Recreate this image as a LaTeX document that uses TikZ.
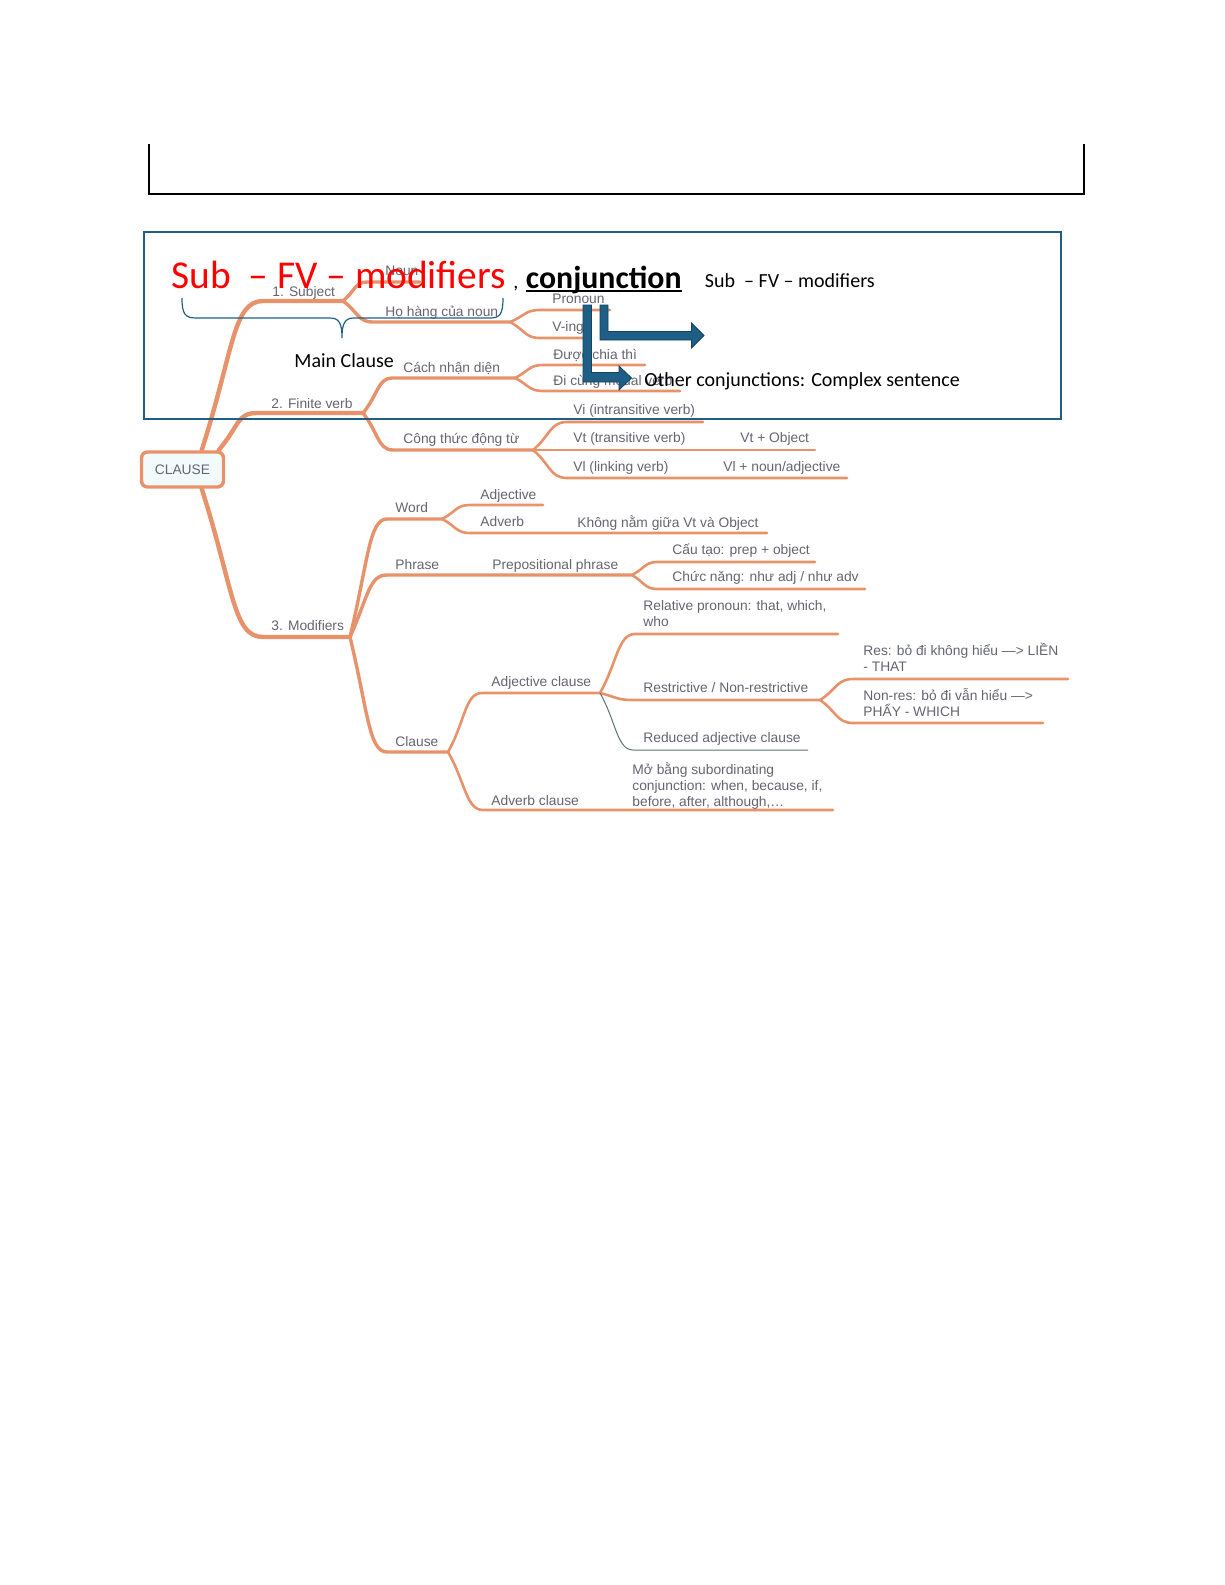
\documentclass[tikz,border=0pt]{standalone}
\usepackage{fontspec}
\setmainfont{Carlito}
\newfontfamily\mapfont{Liberation Sans}
\usetikzlibrary{calc}
\definecolor{mapline}{RGB}{231,146,106}
\definecolor{maptext}{RGB}{100,100,114}
\definecolor{thinline}{RGB}{95,115,105}
\definecolor{boxblue}{RGB}{31,95,133}
\definecolor{arrowedge}{RGB}{20,66,96}
\definecolor{clausefill}{RGB}{243,250,252}
\tikzset{
  lvone/.style={draw=mapline, line width=2.2pt, line cap=round},
  lvtwo/.style={draw=mapline, line width=1.7pt, line cap=round},
  lvthree/.style={draw=mapline, line width=1.3pt, line cap=round},
  maplbl/.style={anchor=south west, inner sep=0pt, text depth=0pt, text=maptext, align=left,
    font=\mapfont\fontsize{6.9}{8}\selectfont},
  doctext/.style={anchor=base west, inner sep=0pt, font=\fontsize{10}{12}\selectfont},
  bentarrow/.style={fill=boxblue, draw=arrowedge, line width=0.4pt}
}

\begin{document}
\begin{tikzpicture}[x=0.5pt,y=-0.5pt]
			%%%%% START %%%%%
			\useasboundingbox (0,0) rectangle (1225,1585);
			
			% open box at the top
			\draw[line width=1pt] (148.5,144) -- (148.5,194) -- (1083.5,194) -- (1083.5,144);
			
			%%%%% MIND MAP %%%%%
			\node[draw=mapline, line width=1.7pt, rounded corners=3pt, fill=clausefill,
			  minimum width=41pt, minimum height=17.5pt, inner sep=0pt, text=maptext,
			  font=\mapfont\fontsize{6.9}{8}\selectfont] (clause) at (182.5,469.5) {CLAUSE};
			
			\coordinate (subA) at (263,301);  \coordinate (subB) at (343,301);
			\coordinate (finA) at (257,413);  \coordinate (finB) at (363,413);
			\coordinate (modA) at (263,637);  \coordinate (modB) at (350,637);
			
			\draw[lvone] (clause.45) .. controls +(32,-100) and +(-30,0) .. (subA) -- (subB);
			\draw[lvone] (clause.28) .. controls +(21,-25) and +(-20,0) .. (finA) -- (finB);
			\draw[lvone] (clause.-45) .. controls +(32,100) and +(-30,0) .. (modA) -- (modB);
			
			\node[maplbl] (subj) at (272,297) {1. Subject};
			\node[maplbl] (fin) at (271,409) {2. Finite verb};
			\node[maplbl] (mods) at (271,631) {3. Modifiers};
			
			% subject
			\coordinate (nounA) at (367,282); \coordinate (nounB) at (420,282);
			\coordinate (hhA) at (373,322);   \coordinate (hhB) at (510,322);
			\draw[lvtwo] (subB) .. controls +(12,-10) and +(-12,0) .. (nounA) -- (nounB);
			\draw[lvtwo] (subB) .. controls +(15,11) and +(-15,0) .. (hhA) -- (hhB);
			\node[maplbl] (noun) at (385,276) {Noun};
			\node[maplbl] (hh) at (385,317) {Họ hàng của noun};
			
			\coordinate (proA) at (540,310);  \coordinate (proB) at (610,310);
			\coordinate (vingA) at (540,338); \coordinate (vingB) at (588,338);
			\draw[lvthree] (hhB) .. controls +(15,-6) and +(-15,0) .. (proA) -- (proB);
			\draw[lvthree] (hhB) .. controls +(15,8) and +(-15,0) .. (vingA) -- (vingB);
			\node[maplbl] (pron) at (552,304) {Pronoun};
			\node[maplbl] (ving) at (552,332) {V-ing};
			
			% finite verb
			\coordinate (cnA) at (392,378);   \coordinate (cnB) at (515,378);
			\coordinate (ctA) at (393,450);   \coordinate (ctB) at (533,450);
			\draw[lvtwo] (finB) .. controls +(15,-18) and +(-14,0) .. (cnA) -- (cnB);
			\draw[lvtwo] (finB) .. controls +(15,19) and +(-15,0) .. (ctA) -- (ctB);
			\node[maplbl] (cn) at (403,373) {Cách nhận diện};
			\node[maplbl] (ct) at (403,444) {Công thức động từ};
			
			\coordinate (dcA) at (543,365);   \coordinate (dcB) at (645,365);
			\coordinate (dmA) at (543,391);   \coordinate (dmB) at (680,391);
			\draw[lvthree] (cnB) .. controls +(14,-7) and +(-14,0) .. (dcA) -- (dcB);
			\draw[lvthree] (cnB) .. controls +(14,7) and +(-14,0) .. (dmA) -- (dmB);
			\node[maplbl] (dc) at (553,360) {Được chia thì};
			\node[maplbl] (dm) at (553,386) {Đi cùng modal verb};
			
			\coordinate (viA) at (567,422);   \coordinate (viB) at (703,422);
			\coordinate (vtB) at (815,450);
			\coordinate (vlA) at (567,478);   \coordinate (vlB) at (847,478);
			\draw[lvthree] (ctB) .. controls +(17,-14) and +(-17,0) .. (viA) -- (viB);
			\draw[lvthree] (ctB) -- (vtB);
			\draw[lvthree] (ctB) .. controls +(17,14) and +(-17,0) .. (vlA) -- (vlB);
			\node[maplbl] (vi) at (573,415) {Vi (intransitive verb)};
			\node[maplbl] (vt) at (573,443) {Vt (transitive verb)};
			\node[maplbl] (vtobj) at (740,443) {Vt + Object};
			\node[maplbl] (vl) at (573,472) {Vl (linking verb)};
			\node[maplbl] (vlobj) at (723,472) {Vl + noun/adjective};
			
			% modifiers
			\coordinate (wordA) at (387,519); \coordinate (wordB) at (442,519);
			\coordinate (phrA) at (387,575);  \coordinate (phrB) at (632,575);
			\coordinate (clA) at (387,752);   \coordinate (clB) at (448,752);
			\draw[lvtwo] (modB) .. controls +(18,-75) and +(-18,0) .. (wordA) -- (wordB);
			\draw[lvtwo] (modB) .. controls +(18,-40) and +(-18,0) .. (phrA) -- (phrB);
			\draw[lvtwo] (modB) .. controls +(18,75) and +(-18,0) .. (clA) -- (clB);
			\node[maplbl] (word) at (395,513) {Word};
			\node[maplbl] (phr) at (395,570) {Phrase};
			\node[maplbl] (prep) at (492,570) {Prepositional phrase};
			\node[maplbl] (cl) at (395,747) {Clause};
			
			\coordinate (adjA) at (470,505);  \coordinate (adjB) at (543,505);
			\coordinate (advA) at (470,533);  \coordinate (advB) at (767,533);
			\draw[lvthree] (wordB) .. controls +(14,-7) and +(-14,0) .. (adjA) -- (adjB);
			\draw[lvthree] (wordB) .. controls +(14,7) and +(-14,0) .. (advA) -- (advB);
			\node[maplbl] (adj) at (480,500) {Adjective};
			\node[maplbl] (adv) at (480,527) {Adverb};
			\node[maplbl] (advpos) at (577,528) {Không nằm giữa Vt và Object};
			
			\coordinate (ctaoA) at (657,562); \coordinate (ctaoB) at (815,562);
			\coordinate (cnangA) at (657,589); \coordinate (cnangB) at (865,589);
			\draw[lvthree] (phrB) .. controls +(12,-6) and +(-12,0) .. (ctaoA) -- (ctaoB);
			\draw[lvthree] (phrB) .. controls +(12,7) and +(-12,0) .. (cnangA) -- (cnangB);
			\node[maplbl] (ctao) at (672,555) {Cấu tạo: prep + object};
			\node[maplbl] (cnang) at (672,582) {Chức năng: như adj / như adv};
			
			\coordinate (acA) at (482,693);   \coordinate (acB) at (600,693);
			\coordinate (avA) at (483,810);   \coordinate (avB) at (833,810);
			\draw[lvthree] (clB) .. controls +(17,-30) and +(-17,0) .. (acA) -- (acB);
			\draw[lvthree] (clB) .. controls +(17,29) and +(-17,0) .. (avA) -- (avB);
			\node[maplbl] (ac) at (491,687) {Adjective clause};
			\node[maplbl] (av) at (491,806) {Adverb clause};
			\node[maplbl] (avtxt) at (632,807) {Mở bằng subordinating\\conjunction: when, because, if,\\before, after, although,…};
			
			\coordinate (rpA) at (635,634);   \coordinate (rpB) at (838,634);
			\coordinate (rnA) at (633,700);   \coordinate (rnB) at (820,700);
			\coordinate (raA) at (633,750);   \coordinate (raB) at (808,750);
			\draw[lvthree] (acB) .. controls +(17,-30) and +(-17,0) .. (rpA) -- (rpB);
			\draw[lvthree] (acB) .. controls +(16,4) and +(-16,0) .. (rnA) -- (rnB);
			\draw[thinline, line width=0.5pt] (acB) .. controls +(16,28) and +(-16,0) .. (raA) -- (raB);
			\node[maplbl] (rp) at (643,627) {Relative pronoun: that, which,\\who};
			\node[maplbl] (rn) at (643,693) {Restrictive / Non-restrictive};
			\node[maplbl] (ra) at (643,743) {Reduced adjective clause};
			
			\coordinate (resA) at (853,679);  \coordinate (resB) at (1068,679);
			\coordinate (nresA) at (853,723); \coordinate (nresB) at (1043,723);
			\draw[lvthree] (rnB) .. controls +(16,-10) and +(-16,0) .. (resA) -- (resB);
			\draw[lvthree] (rnB) .. controls +(16,11) and +(-16,0) .. (nresA) -- (nresB);
			\node[maplbl] (res) at (863,672) {Res: bỏ đi không hiểu —> LIỀN\\- THAT};
			\node[maplbl] (nres) at (863,717) {Non-res: bỏ đi vẫn hiểu —>\\PHẨY - WHICH};
			
			%%%%% NOTES ON TOP %%%%%
			\draw[boxblue, line width=1pt] (143.5,231.5) rectangle (1061,418.5);
			
			\node[anchor=base west, inner sep=0pt, text=red, font=\fontsize{19.7}{23}\selectfont] (sfm) at (171,288) {Sub\ \ – FV – modifiers};
			\node[doctext] (comma) at (513,288) {,};
			\node[anchor=base west, inner sep=0pt, font=\bfseries\fontsize{15.9}{19}\selectfont] (conj) at (525.5,288) {conjunction};
			\draw[line width=0.8pt] ([yshift=-1.6pt]conj.base west) -- ([yshift=-1.6pt]conj.base east);
			\node[doctext] (sfmsmall) at (704.5,287) {Sub\ \ – FV – modifiers};
			
			% brace under the main clause
			\draw[boxblue, line width=0.6pt] (182,298) .. controls (182,314) and (185,318) .. (196,318)
			  -- (330,318) .. controls (339,318) and (342,323) .. (342,338)
			  .. controls (342,323) and (345,318) .. (354,318) -- (490,318)
			  .. controls (500,318) and (503,314) .. (503,298);
			\node[doctext] (mainc) at (294,367) {Main Clause};
			
			% bent arrows
			\draw[bentarrow] (583,305) -- (591.5,305) -- (591.5,372.5) -- (619,372.5) -- (619,366)
			  -- (631.5,378) -- (619,390) -- (619,382) -- (583,382) -- cycle;
			\draw[bentarrow] (600,305) -- (608,305) -- (608,331.5) -- (691.5,331.5) -- (691.5,323)
			  -- (704,335.5) -- (691.5,348) -- (691.5,340) -- (600,340) -- cycle;
			\node[doctext] (other) at (644,386) {Other conjunctions: Complex sentence};
			
			%%%%% END %%%%%
\end{tikzpicture}
\end{document}
